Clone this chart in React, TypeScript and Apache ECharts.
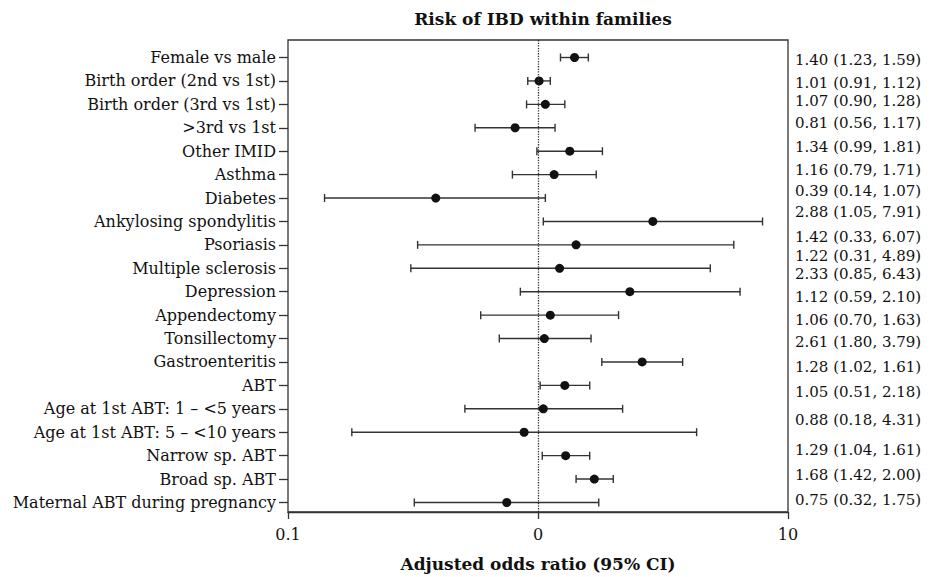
import React, { useEffect, useRef } from 'react';
import * as echarts from 'echarts';

// ---- data ----
const categories = [
  'Female vs male',
  'Birth order (2nd vs 1st)',
  'Birth order (3rd vs 1st)',
  '>3rd vs 1st',
  'Other IMID',
  'Asthma',
  'Diabetes',
  'Ankylosing spondylitis',
  'Psoriasis',
  'Multiple sclerosis',
  'Depression',
  'Appendectomy',
  'Tonsillectomy',
  'Gastroenteritis',
  'ABT',
  'Age at 1st ABT: 1 – <5 years',
  'Age at 1st ABT: 5 – <10 years',
  'Narrow sp. ABT',
  'Broad sp. ABT',
  'Maternal ABT during pregnancy',
];
const oddsRatio = [1.40, 1.01, 1.07, 0.81, 1.34, 1.16, 0.39, 2.88, 1.42, 1.22, 2.33, 1.12, 1.06, 2.61, 1.28, 1.05, 0.88, 1.29, 1.68, 0.75];
const ciLower = [1.23, 0.91, 0.90, 0.56, 0.99, 0.79, 0.14, 1.05, 0.33, 0.31, 0.85, 0.59, 0.70, 1.80, 1.02, 0.51, 0.18, 1.04, 1.42, 0.32];
const ciUpper = [1.59, 1.12, 1.28, 1.17, 1.81, 1.71, 1.07, 7.91, 6.07, 4.89, 6.43, 2.10, 1.63, 3.79, 1.61, 2.18, 4.31, 1.61, 2.00, 1.75];
const xTickValues = [0.1, 1, 10];
const xTickLabels = ['0.1', '0', '10'];

// ---- layout (not data) ----
const rightLabelY = [60, 83, 101, 123, 147, 170, 191, 212, 237, 256, 274, 297, 320, 342, 367, 392, 420, 450, 475, 500];

const FONT = '"DejaVu Serif", serif';
const INK = '#111111';
const LINE = '#333333';

function fmtRow(i: number) {
  return `${oddsRatio[i].toFixed(2)} (${ciLower[i].toFixed(2)}, ${ciUpper[i].toFixed(2)})`;
}

export default function App() {
  const ref = useRef<HTMLDivElement>(null);
  useEffect(() => {
    const chart = echarts.init(ref.current!, null, { renderer: 'svg' });
    const option: any = {
      animation: false,
      backgroundColor: '#ffffff',
      textStyle: { fontFamily: FONT, color: INK },
      title: {
        text: 'Risk of IBD within families',
        left: 538,
        top: 5,
        textAlign: 'center',
        textStyle: { fontFamily: FONT, fontSize: 17, fontWeight: 'bold', color: INK },
      },
      grid: [
        { left: 288, top: 40, width: 500, height: 478, show: true, borderColor: LINE, borderWidth: 1.3, backgroundColor: 'transparent' },
        { left: 288, top: 45.8, width: 500, height: 468.4 },
      ],
      xAxis: [
        {
          gridIndex: 0,
          type: 'log',
          logBase: 10,
          min: 0.1,
          max: 10,
          axisLine: { show: true, lineStyle: { color: LINE, width: 1.3 } },
          axisTick: { show: true, length: 7, lineStyle: { color: LINE, width: 1.3 } },
          minorTick: { show: false },
          splitLine: { show: false },
          axisLabel: {
            margin: 14,
            fontSize: 16,
            fontFamily: FONT,
            color: INK,
            formatter: (v: number) => {
              const k = Math.round(Math.log10(v));
              const idx = xTickValues.findIndex((t) => Math.round(Math.log10(t)) === k);
              return idx >= 0 ? xTickLabels[idx] : '';
            },
          },
          name: 'Adjusted odds ratio (95% CI)',
          nameLocation: 'middle',
          nameGap: 43,
          nameTextStyle: { fontFamily: FONT, fontSize: 17, fontWeight: 'bold', color: INK },
        },
        { gridIndex: 1, type: 'log', logBase: 10, min: 0.1, max: 10, show: false },
      ],
      yAxis: [
        { gridIndex: 0, type: 'value', min: 0, max: 1, show: false },
        {
          gridIndex: 1,
          type: 'category',
          data: categories,
          inverse: true,
          axisLine: { show: false },
          axisTick: { show: true, alignWithLabel: true, length: 9, lineStyle: { color: LINE, width: 1.3 } },
          axisLabel: { margin: 12, fontSize: 16, fontFamily: FONT, color: INK },
          splitLine: { show: false },
        },
      ],
      series: [
        {
          type: 'line',
          xAxisIndex: 0,
          yAxisIndex: 0,
          data: [[1, 0.5]],
          symbol: 'none',
          lineStyle: { opacity: 0 },
          silent: true,
          markLine: {
            silent: true,
            symbol: ['none', 'none'],
            label: { show: false },
            lineStyle: { type: 'dotted', color: LINE, width: 1.3 },
            data: [{ xAxis: 1 }],
          },
        },
        {
          type: 'custom',
          xAxisIndex: 1,
          yAxisIndex: 1,
          data: categories.map((_, i) => [ciLower[i], ciUpper[i], i]),
          encode: { x: [0, 1], y: 2 },
          renderItem: (params: any, api: any) => {
            const lo = api.coord([api.value(0), api.value(2)]);
            const hi = api.coord([api.value(1), api.value(2)]);
            const h = 4;
            const style = { stroke: LINE, lineWidth: 1.4 };
            return {
              type: 'group',
              children: [
                { type: 'line', shape: { x1: lo[0], y1: lo[1], x2: hi[0], y2: hi[1] }, style },
                { type: 'line', shape: { x1: lo[0], y1: lo[1] - h, x2: lo[0], y2: lo[1] + h }, style },
                { type: 'line', shape: { x1: hi[0], y1: hi[1] - h, x2: hi[0], y2: hi[1] + h }, style },
              ],
            };
          },
          z: 2,
        },
        {
          type: 'scatter',
          xAxisIndex: 1,
          yAxisIndex: 1,
          data: oddsRatio.map((v, i) => [v, i]),
          symbol: 'circle',
          symbolSize: 9,
          itemStyle: { color: INK, opacity: 1 },
          z: 3,
        },
      ],
      graphic: rightLabelY.map((y, i) => ({
        type: 'text',
        x: 795,
        y,
        style: {
          text: fmtRow(i),
          fontSize: 15,
          fontFamily: FONT,
          fill: INK,
          align: 'left',
          verticalAlign: 'middle',
        },
      })),
    };
    chart.setOption(option);
    return () => chart.dispose();
  }, []);
  return (
    <div
      ref={ref}
      style={{ position: 'fixed', left: 0, top: 0, width: 934, height: 577, background: '#fff' }}
    />
  );
}
